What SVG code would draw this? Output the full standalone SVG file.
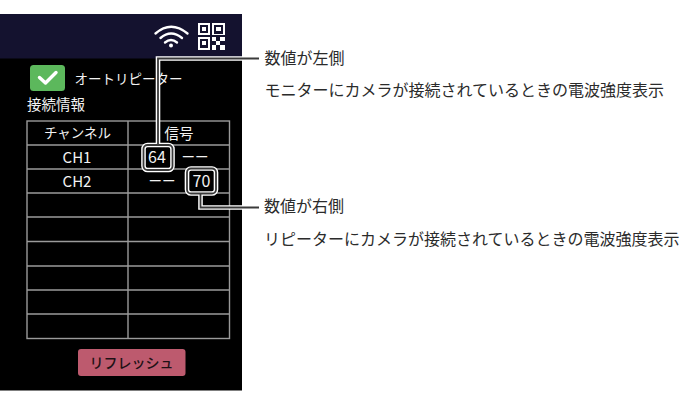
<svg xmlns="http://www.w3.org/2000/svg" width="692" height="416" viewBox="0 0 692 416">
<style>
text{font-family:"Noto Sans CJK JP","Noto Sans",sans-serif}
.w{fill:#f2f2f2;font-size:13.5px}
.h{fill:#f2f2f2;font-size:14.5px}
.n{fill:#f2f2f2;font-size:15px}
.d{fill:#f2f2f2;font-size:16px}
.c{text-anchor:middle}
.k{fill:#2b2b2b;font-size:16px}
.g{stroke:#9a9a9a;stroke-width:1.4;fill:none}
.o{stroke:#fff;stroke-width:4.6;fill:none}
.i{stroke:#3a3a3a;stroke-width:1.8;fill:none}
.q{fill:#fff}
</style>
<rect width="692" height="416" fill="#fff"/>
<g id="panel">
<rect x="0" y="14" width="242" height="376.500" fill="#000"/>
<rect x="0" y="14" width="242" height="44.500" fill="#14122f"/>
</g>
<g id="wifi" fill="none" stroke="#fff" stroke-linecap="round">
<path d="M155.500 33.500Q171 20 187.500 33.500" stroke-width="2.400"/>
<path d="M160.500 38Q171 29 182 38" stroke-width="2.400"/>
<path d="M165 42.500Q171 37.500 177 42.500" stroke-width="2.400"/>
<circle cx="171" cy="45.500" r="2" fill="#fff" stroke="none"/>
</g>
<g id="qr">
<path class="q" fill-rule="evenodd" d="M198 23h12v12h-12zM200 25v8h8v-8zM212 23h13v12h-13zM214 25v9h9v-9zM198 37h12v13h-12zM200 39v9h8v-9z"/>
<rect class="q" x="202" y="27" width="4" height="4"/><rect class="q" x="216" y="27" width="5" height="4"/><rect class="q" x="202" y="41" width="4" height="4"/>
<path class="q" d="M212 37h4v4h-4zM220 37h5v4h-5zM216 41h4v4h-4zM212 45h4v5h-4zM220 45h5v5h-5z"/>
</g>
<g id="checkbox">
<rect x="30" y="65" width="35" height="26" rx="3.500" fill="#5cb85c"/>
<path d="M39.500 77.500L45.500 83L56 72.500" fill="none" stroke="#fff" stroke-width="3.400" stroke-linecap="round" stroke-linejoin="round"/>
<text class="w" x="74.500" y="84">オートリピーター</text>
</g>
<text id="info" class="h" x="27" y="110">接続情報</text>
<g id="table">
<rect class="g" x="27" y="121" width="202.500" height="217.500"/>
<path class="g" d="M128 121V338.500M27 145H229.500M27 169H229.500M27 193H229.500M27 217H229.500M27 241.500H229.500M27 266H229.500M27 290H229.500M27 314H229.500"/>
<text class="w c" x="77.500" y="138">チャンネル</text>
<text class="h c" x="179" y="138.500">信号</text>
<text class="n c" x="77" y="162.500">CH1</text>
<text class="n c" x="77" y="186.500">CH2</text>
<text class="d c" x="157" y="163">64</text>
<text class="w c" x="195" y="162">ーー</text>
<text class="w c" x="162" y="186">ーー</text>
<text class="d c" x="201.500" y="187">70</text>
</g>
<g id="refresh">
<rect x="78" y="349" width="107.500" height="27" rx="3" fill="#bd5a6e"/>
<text class="c" x="131.500" y="368" font-size="14" font-weight="500" fill="#1f1216">リフレッシュ</text>
</g>
<g id="connectors">
<path class="o" d="M259 58.500H158V144"/>
<path class="o" d="M200.500 194V207.500H259"/>
<rect class="o" x="143.500" y="145" width="29" height="25" rx="4"/>
<rect class="o" x="187" y="168.500" width="29" height="25" rx="4"/>
<path class="i" d="M259 58.500H158V145"/>
<path class="i" d="M200.500 193V207.500H259"/>
<rect class="i" x="143.500" y="145" width="29" height="25" rx="4"/>
<rect class="i" x="187" y="168.500" width="29" height="25" rx="4"/>
</g>
<g id="labels">
<text class="k" x="264.500" y="63.500">数値が左側</text>
<text class="k" x="264.500" y="95.500">モニターにカメラが接続されているときの電波強度表示</text>
<text class="k" x="264" y="211.500">数値が右側</text>
<text class="k" x="264" y="244.500">リピーターにカメラが接続されているときの電波強度表示</text>
</g>
</svg>
